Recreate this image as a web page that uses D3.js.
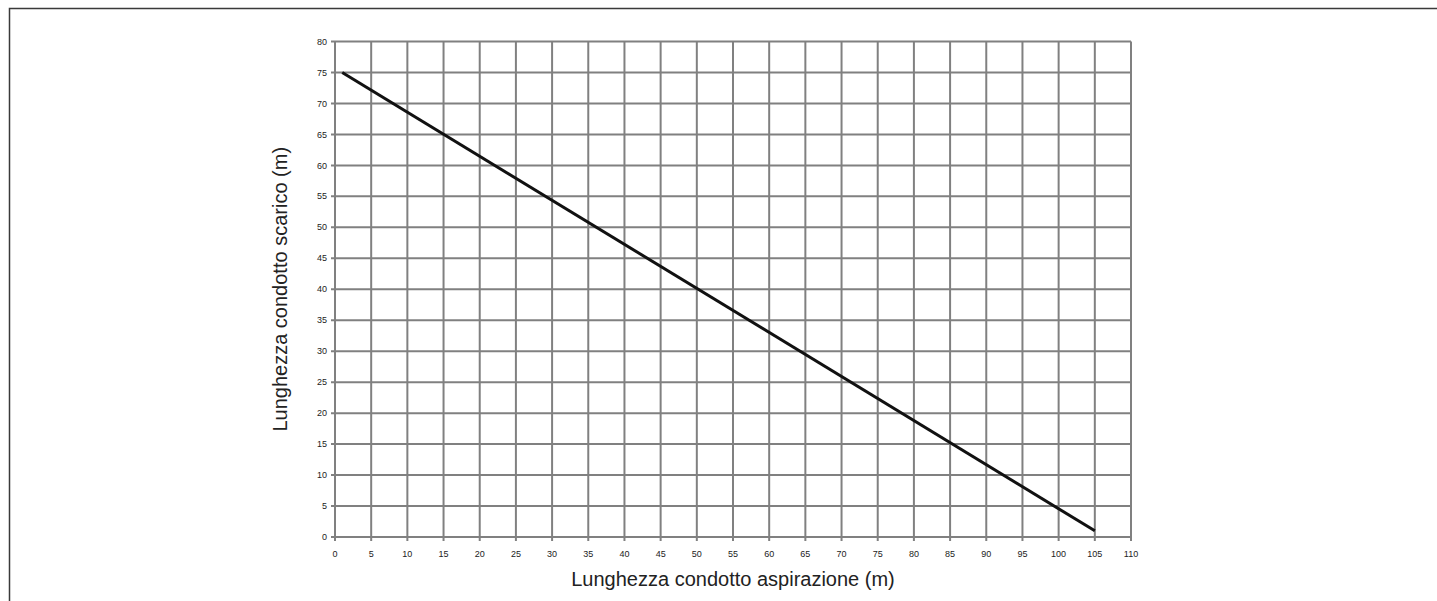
<!DOCTYPE html>
<html>
<head>
<meta charset="utf-8">
<script src="https://cdn.jsdelivr.net/npm/d3@7"></script>
<style>
  body { margin: 0; background: #fff; }
  svg { display: block; }
</style>
</head>
<body>
<svg id="chart"></svg>
<script>
// data
const xTicks = d3.range(0, 111, 5);
const yTicks = d3.range(0, 81, 5);
const lineX = [1, 105];
const lineY = [75, 1];

const width = 1437, height = 601;
const svg = d3.select('#chart').attr('width', width).attr('height', height);

const x = d3.scaleLinear().domain([0, 110]).range([335, 1131]);
const y = d3.scaleLinear().domain([0, 80]).range([537, 41.5]);

// page frame (top and left edges only are visible)
svg.append('path')
  .attr('d', `M9.5,${height} V8.5 H${width}`)
  .attr('fill', 'none')
  .attr('stroke', '#3a3a3a')
  .attr('stroke-width', 1.5);

const gridColor = '#808080';
const grid = svg.append('g');

grid.selectAll('.v')
  .data(xTicks)
  .enter()
  .append('line')
  .attr('x1', d => x(d)).attr('x2', d => x(d))
  .attr('y1', y(80)).attr('y2', y(0) + 4)
  .attr('stroke', gridColor)
  .attr('stroke-width', 2);

grid.selectAll('.h')
  .data(yTicks)
  .enter()
  .append('line')
  .attr('x1', x(0) - 4).attr('x2', x(110))
  .attr('y1', d => y(d)).attr('y2', d => y(d))
  .attr('stroke', gridColor)
  .attr('stroke-width', 2);

// tick labels
svg.append('g')
  .selectAll('text')
  .data(yTicks)
  .enter()
  .append('text')
  .attr('x', x(0) - 8)
  .attr('y', d => y(d))
  .attr('dy', '0.35em')
  .attr('text-anchor', 'end')
  .attr('font-family', 'Liberation Sans, Arial, sans-serif')
  .attr('font-size', 9)
  .attr('fill', '#222')
  .text(d => d);

svg.append('g')
  .selectAll('text')
  .data(xTicks)
  .enter()
  .append('text')
  .attr('x', d => x(d))
  .attr('y', y(0) + 20)
  .attr('text-anchor', 'middle')
  .attr('font-family', 'Liberation Sans, Arial, sans-serif')
  .attr('font-size', 9)
  .attr('fill', '#222')
  .text(d => d);

// the line
const pts = lineX.map((v, i) => [v, lineY[i]]);
svg.append('path')
  .datum(pts)
  .attr('fill', 'none')
  .attr('stroke', '#111')
  .attr('stroke-width', 3)
  .attr('d', d3.line().x(d => x(d[0])).y(d => y(d[1])));

// axis titles
svg.append('text')
  .attr('x', (x(0) + x(110)) / 2)
  .attr('y', 586)
  .attr('text-anchor', 'middle')
  .attr('font-family', 'Liberation Sans, Arial, sans-serif')
  .attr('font-size', 20)
  .attr('fill', '#222')
  .text('Lunghezza condotto aspirazione (m)');

svg.append('text')
  .attr('transform', `translate(287,${(y(0) + y(80)) / 2}) rotate(-90)`)
  .attr('text-anchor', 'middle')
  .attr('font-family', 'Liberation Sans, Arial, sans-serif')
  .attr('font-size', 20)
  .attr('fill', '#222')
  .text('Lunghezza condotto scarico (m)');
</script>
</body>
</html>
